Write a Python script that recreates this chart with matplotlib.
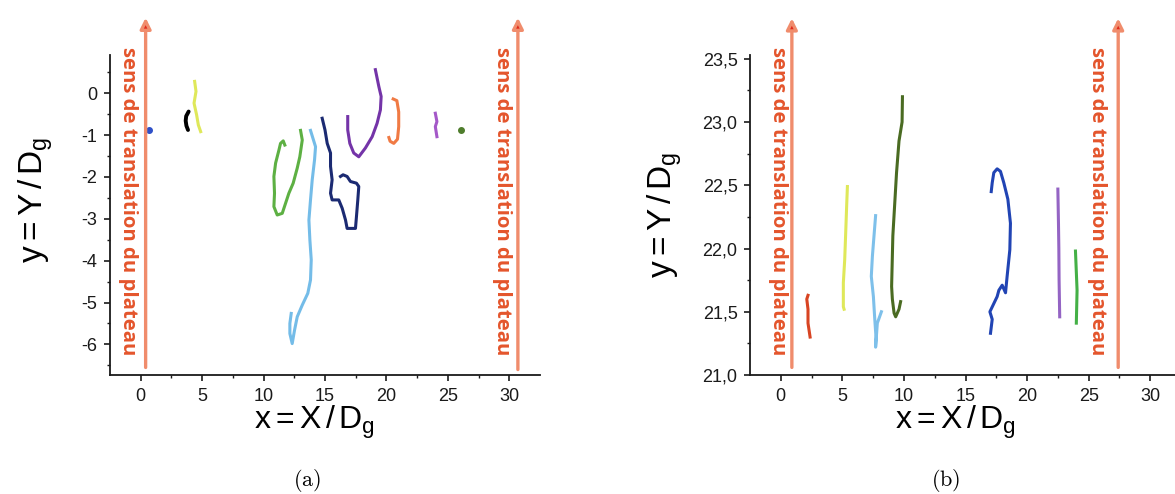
import numpy as np
import matplotlib
matplotlib.use("Agg")
import matplotlib.pyplot as plt

plt.rcParams['font.family'] = ['Liberation Sans', 'DejaVu Sans']
plt.rcParams['axes.unicode_minus'] = False
plt.rcParams['mathtext.fontset'] = 'custom'
plt.rcParams['mathtext.rm'] = 'Liberation Sans'
plt.rcParams['mathtext.it'] = 'Liberation Sans:italic'

# ---- panel (a) trajectories ----
a_blue_x = [0.68]
a_blue_y = [-0.88]
a_black_x = [3.9, 3.7, 3.66, 3.72, 3.85]
a_black_y = [-0.44, -0.55, -0.66, -0.78, -0.88]
a_yellow_x = [4.39, 4.5, 4.34, 4.55, 4.69, 4.88]
a_yellow_y = [0.28, 0.04, -0.24, -0.52, -0.76, -0.92]
a_green_x = [13.01, 13.15, 12.95, 12.74, 12.41, 12.06, 11.79, 11.52, 11.11, 10.84,
             10.89, 10.84, 10.98, 11.25, 11.38, 11.6, 11.73]
a_green_y = [-0.89, -1.12, -1.52, -1.79, -2.15, -2.39, -2.63, -2.87, -2.91, -2.71,
             -2.39, -1.99, -1.67, -1.36, -1.2, -1.14, -1.24]
a_lblue_x = [13.82, 14.23, 14.15, 13.96, 13.82, 13.69, 13.77, 13.88, 13.82, 13.6,
             13.15, 12.74, 12.52, 12.33, 12.14, 12.14, 12.25]
a_lblue_y = [-0.89, -1.28, -1.59, -2.07, -2.55, -3.03, -3.51, -3.98, -4.46, -4.78,
             -5.06, -5.34, -5.66, -5.98, -5.74, -5.5, -5.26]
a_navy_x = [14.77, 15.0, 15.18, 15.45, 15.45, 15.58, 15.45, 15.58, 16.12, 16.4,
            16.67, 16.8, 17.48, 17.56, 17.67, 17.75, 17.56, 17.07, 16.8, 16.47, 16.26]
a_navy_y = [-0.6, -0.88, -1.2, -1.43, -1.75, -2.07, -2.39, -2.55, -2.55, -2.75,
            -3.03, -3.23, -3.23, -2.95, -2.55, -2.23, -2.15, -2.11, -1.99, -1.95, -1.99]
a_purple_x = [19.1, 19.38, 19.57, 19.51, 19.24, 18.84, 18.29, 17.75, 17.34, 17.02,
              16.85, 16.85]
a_purple_y = [0.56, 0.16, -0.08, -0.4, -0.72, -1.04, -1.31, -1.52, -1.43, -1.2,
              -0.88, -0.56]
a_orange_x = [20.55, 20.85, 21.0, 21.0, 20.9, 20.6, 20.3, 20.2]
a_orange_y = [-0.14, -0.18, -0.45, -0.8, -1.1, -1.2, -1.15, -1.06]
a_violet_x = [23.98, 24.11, 23.98, 24.11]
a_violet_y = [-0.48, -0.68, -0.8, -1.04]
a_dot_x = [26.07]
a_dot_y = [-0.88]

# ---- panel (b) trajectories ----
b_red_x = [2.21, 2.11, 2.21, 2.21, 2.38]
b_red_y = [21.63, 21.6, 21.52, 21.41, 21.3]
b_yellow_x = [5.41, 5.35, 5.27, 5.19, 5.08, 5.08, 5.14]
b_yellow_y = [22.49, 22.34, 22.12, 21.91, 21.73, 21.54, 21.52]
b_lblue_x = [7.7, 7.57, 7.44, 7.35, 7.52, 7.62, 7.73, 7.7, 7.84, 8.17]
b_lblue_y = [22.26, 22.1, 21.94, 21.78, 21.62, 21.46, 21.3, 21.22, 21.41, 21.5]
b_olive_x = [9.88, 9.85, 9.6, 9.4, 9.25, 9.1, 9.05, 9.0, 9.06, 9.2, 9.33, 9.6, 9.73]
b_olive_y = [23.2, 23.0, 22.85, 22.6, 22.35, 22.1, 21.9, 21.7, 21.6, 21.49, 21.46,
             21.52, 21.58]
b_blue_x = [17.03, 17.17, 16.98, 17.57, 17.71, 17.98, 18.25, 18.38, 18.6, 18.65,
            18.44, 18.11, 17.84, 17.57, 17.3, 17.17, 17.09]
b_blue_y = [21.33, 21.44, 21.5, 21.62, 21.67, 21.71, 21.65, 21.78, 21.99, 22.2,
            22.39, 22.52, 22.61, 22.63, 22.6, 22.52, 22.45]
b_purple_x = [22.5, 22.55, 22.58, 22.6, 22.65]
b_purple_y = [22.47, 22.2, 22.0, 21.75, 21.46]
b_green_x = [23.93, 24.06, 24.0]
b_green_y = [21.98, 21.67, 21.41]

a_ticks_y = [0, -1, -2, -3, -4, -5, -6]
b_ticks_y = [21.0, 21.5, 22.0, 22.5, 23.0, 23.5]
x_ticks = [0, 5, 10, 15, 20, 25, 30]
arrow_text = "sens de translation du plateau"

W, H = 1175, 494
fig = plt.figure(figsize=(W / 100, H / 100), dpi=100)

def px_box(l, r, t, b):
    return [l / W, (H - b) / H, (r - l) / W, (b - t) / H]

ax_a = fig.add_axes(px_box(110, 540, 55, 375))
ax_b = fig.add_axes(px_box(750, 1181, 55, 375))

arrow_col = '#f08c6c'
head_col = '#e02818'
text_col = '#e4552c'

def style_axes(ax, ylim, yticks, ylabels, yminor):
    ax.set_xlim(-2.5, 32.5)
    ax.set_ylim(*ylim)
    for s in ['top', 'right']:
        ax.spines[s].set_visible(False)
    for s in ['left', 'bottom']:
        ax.spines[s].set_linewidth(1.3)
        ax.spines[s].set_color('#1a1a1a')
    ax.set_xticks(x_ticks)
    ax.set_xticks(np.arange(2.5, 32.5, 5), minor=True)
    ax.set_yticks(yticks)
    ax.set_yticklabels(ylabels)
    ax.set_yticks(yminor, minor=True)
    ax.tick_params(which='major', direction='out', length=4, width=1.2,
                   labelsize=13, pad=5, colors='#1a1a1a')
    ax.tick_params(which='minor', direction='out', length=2.5, width=1.0,
                   colors='#1a1a1a')
    ax.patch.set_visible(False)

style_axes(ax_a, (-6.73, 0.91), a_ticks_y, [str(v) for v in a_ticks_y],
           np.arange(-6.5, 0.9, 1.0))
style_axes(ax_b, (21.0, 23.53), b_ticks_y,
           [f"{v:.1f}".replace('.', ',') for v in b_ticks_y],
           np.arange(21.25, 23.5, 0.5))

def draw_arrow(ax, x, y0, y1):
    ax.annotate('', xy=(x, y1), xytext=(x, y0), annotation_clip=False,
                arrowprops=dict(arrowstyle='-|>', lw=2.4, ec=arrow_col, fc=head_col,
                                mutation_scale=16, shrinkA=0, shrinkB=0))

def draw_label(ax, x):
    ax.text(x, 1.025, arrow_text, transform=ax.get_xaxis_transform(),
            rotation=270, ha='center', va='top', color=text_col,
            fontsize=14.7, fontweight='bold', family=['Open Sans', 'DejaVu Sans'])

# panel (a)
draw_arrow(ax_a, 0.4, -6.55, 1.8)
draw_arrow(ax_a, 30.7, -6.6, 1.8)
draw_label(ax_a, -1.06)
draw_label(ax_a, 29.4)

lw = 2.2
ax_a.plot(a_blue_x, a_blue_y, 'o', color='#2f50c8', ms=4)
ax_a.plot(a_black_x, a_black_y, color='black', lw=2.8, solid_capstyle='round')
ax_a.plot(a_yellow_x, a_yellow_y, color='#dfe85a', lw=lw)
ax_a.plot(a_green_x, a_green_y, color='#5db043', lw=lw)
ax_a.plot(a_lblue_x, a_lblue_y, color='#74bce8', lw=lw)
ax_a.plot(a_navy_x, a_navy_y, color='#1b2a72', lw=lw)
ax_a.plot(a_purple_x, a_purple_y, color='#7434a8', lw=lw)
ax_a.plot(a_orange_x, a_orange_y, color='#f07a44', lw=lw)
ax_a.plot(a_violet_x, a_violet_y, color='#a458c8', lw=lw)
ax_a.plot(a_dot_x, a_dot_y, 'o', color='#4f7d2c', ms=4)

# panel (b)
draw_arrow(ax_b, 0.9, 21.06, 23.82)
draw_arrow(ax_b, 27.4, 21.06, 23.82)
draw_label(ax_b, -0.24)
draw_label(ax_b, 25.7)

ax_b.plot(b_red_x, b_red_y, color='#d84422', lw=lw)
ax_b.plot(b_yellow_x, b_yellow_y, color='#dfe85a', lw=lw)
ax_b.plot(b_lblue_x, b_lblue_y, color='#7ec0ea', lw=lw)
ax_b.plot(b_olive_x, b_olive_y, color='#4a6b22', lw=lw)
ax_b.plot(b_blue_x, b_blue_y, color='#2144b4', lw=lw)
ax_b.plot(b_purple_x, b_purple_y, color='#9464c4', lw=lw)
ax_b.plot(b_green_x, b_green_y, color='#44b046', lw=lw)

# axis labels
ylab = r'$\mathregular{y = Y\,/\,D_g}$'
xlab = r'$\mathregular{x = X\,/\,D_g}$'
fig.text(36 / W, 1 - 200 / H, ylab, rotation=90, ha='center', va='center', fontsize=24)
fig.text(665 / W, 1 - 215 / H, ylab, rotation=90, ha='center', va='center', fontsize=24)
fig.text(314 / W, 1 - 422 / H, xlab, ha='center', va='center', fontsize=23)
fig.text(955 / W, 1 - 422 / H, xlab, ha='center', va='center', fontsize=23)

# captions
fig.text(307 / W, 1 - 480 / H, r'$\mathrm{(a)}$', math_fontfamily='cm',
         ha='center', va='center', fontsize=16)
fig.text(946 / W, 1 - 480 / H, r'$\mathrm{(b)}$', math_fontfamily='cm',
         ha='center', va='center', fontsize=16)

fig.savefig('out.png', dpi=100)
